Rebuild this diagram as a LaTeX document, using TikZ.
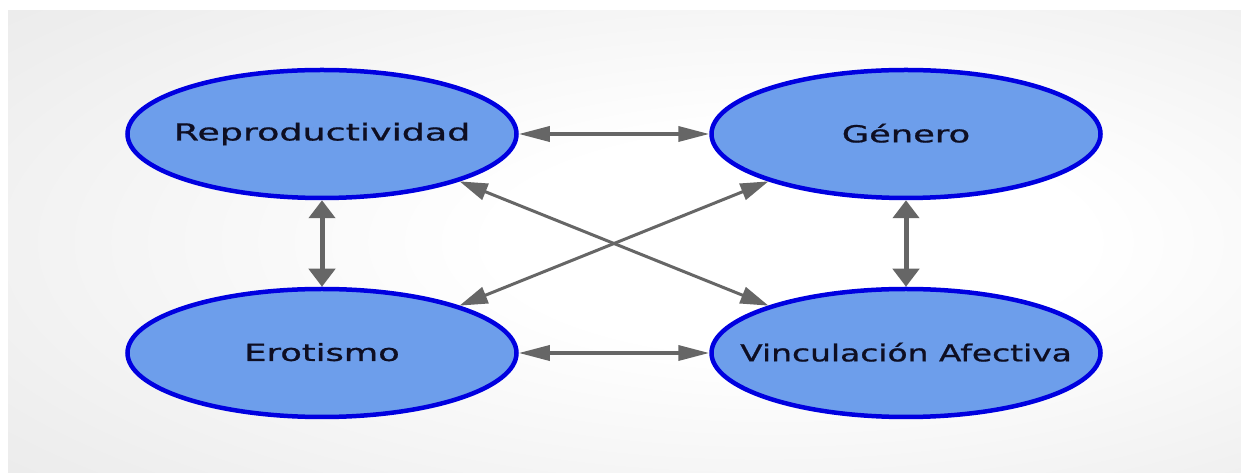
\documentclass[tikz,border=0pt]{standalone}
\usepackage{fontspec}
\setmainfont{DejaVu Sans}
\newfontfamily\lblfont[FakeBold=0.7]{DejaVu Sans}
\usetikzlibrary{arrows.meta,shapes.geometric}
\definecolor{ellfill}{HTML}{6D9EEB}
\definecolor{elldraw}{HTML}{0000E0}
\definecolor{arrgray}{HTML}{666666}
\definecolor{txt}{HTML}{0E0E22}
\definecolor{bgmid}{HTML}{EEEEEE}
\definecolor{bgout}{HTML}{E2E2E2}
\pgfdeclareradialshading{bgshade}{\pgfpoint{8bp}{0bp}}{color(0bp)=(white); color(12bp)=(white); color(35bp)=(bgmid); color(55bp)=(bgout); color(80bp)=(bgout)}
\newcommand{\lbl}[2][1.5]{\makebox[0pt]{\raisebox{2pt}{\scalebox{#1}[1]{#2}}}}
\tikzset{
  concept/.style={ellipse, draw=elldraw, fill=ellfill, line width=4.5pt,
    minimum width=389pt, minimum height=128pt, inner sep=0pt,
    text=txt, font=\lblfont\fontsize{23.5}{27}\selectfont},
  link/.style={draw=arrgray, line width=3.5pt},
  vlink/.style={link, line width=5pt, {Triangle[length=18pt,width=26pt]}-{Triangle[length=18pt,width=26pt]}},
  hlink/.style={link, line width=3.5pt, {Triangle[length=31pt,width=15pt]}-{Triangle[length=31pt,width=15pt]}},
  dlink/.style={link, line width=3pt, {Triangle[length=28pt,width=17pt]}-{Triangle[length=28pt,width=17pt]}},
}
\begin{document}
\begin{tikzpicture}[x=1pt,y=1pt]
  \useasboundingbox (0,0) rectangle (1241,473);
  \fill[white] (0,0) rectangle (1241,473);
  \shade[shading=bgshade] (8,0) rectangle (1241,462);
  \node[concept] (r) at (322,339) {\lbl[1.55]{Reproductividad}};
  \node[concept] (g) at (906,339) {\lbl{Género}};
  \node[concept] (e) at (322,120) {\lbl{Erotismo}};
  \node[concept] (v) at (906,120) {\lbl[1.4]{Vinculación Afectiva}};
  \draw[hlink] (r) -- (g);
  \draw[hlink] (e) -- (v);
  \draw[vlink] (r) -- (e);
  \draw[vlink] (g) -- (v);
  \draw[dlink] (r.-19) -- (v.161);
  \draw[dlink] (g.-161) -- (e.19);
\end{tikzpicture}
\end{document}
